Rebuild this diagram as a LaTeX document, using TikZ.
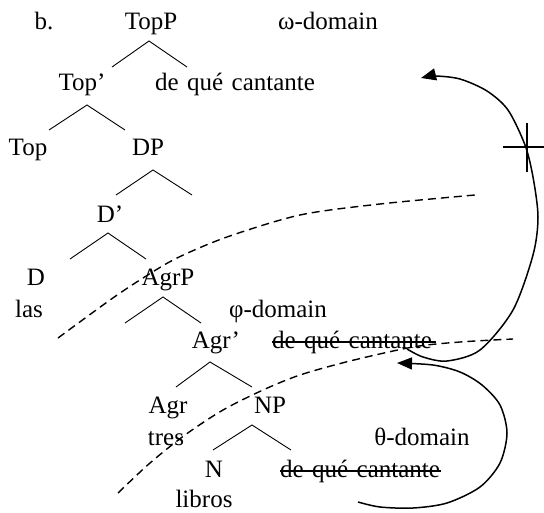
\documentclass[tikz,border=0pt]{standalone}
\usepackage{fontspec}
\setmainfont[WordSpace=1.35]{Liberation Serif}
\usetikzlibrary{arrows.meta}
\begin{document}
\begin{tikzpicture}[x=1pt,y=-1pt,
  lbl/.style={inner sep=0pt, anchor=base, font=\fontsize{25}{29}\selectfont},
  branch/.style={line width=0.9pt},
  domainline/.style={line width=1.4pt, dash pattern=on 8pt off 5pt},
  move/.style={line width=1.5pt, -{Triangle[length=15pt,width=12pt]}},
  strike/.style={line width=1.3pt},
  barrier/.style={line width=1.5pt}]
\useasboundingbox (0,0) rectangle (544,512);
\fill[white] (0,0) rectangle (544,512);

% labels of the tree
\node[lbl] (ex)    at (44,29)   {b.};
\node[lbl] (topp)  at (151,29)  {TopP};
\node[lbl] (omega) at (328,29)  {ω-domain};
\node[lbl] (topb)  at (82,90)   {Top’};
\node[lbl] (wh1)   at (235,90)  {de qué cantante};
\node[lbl] (top)   at (28,155)  {Top};
\node[lbl] (dp)    at (148,155) {DP};
\node[lbl] (db)    at (110,222) {D’};
\node[lbl] (d)     at (36,285)  {D};
\node[lbl] (agrp)  at (168,285) {AgrP};
\node[lbl] (las)   at (29,317)  {las};
\node[lbl] (phi)   at (278,317) {φ-domain};
\node[lbl] (agrb)  at (216,348) {Agr’};
\node[lbl] (wh2)   at (352,348) {de qué cantante};
\node[lbl] (agr)   at (168,413) {Agr};
\node[lbl] (np)    at (270,413) {NP};
\node[lbl] (tres)  at (166,445) {tres};
\node[lbl] (theta) at (422,445) {θ-domain};
\node[lbl] (n)     at (214,477) {N};
\node[lbl] (wh3)   at (360,477) {de qué cantante};
\node[lbl] (libros) at (204,507) {libros};

% branches: apex, left end, right end
\newcommand\forkat[3]{\draw[branch] #2 -- #1 -- #3;}
\forkat{(149,41)}{(112,67)}{(187,67)}
\forkat{(87,105)}{(49,130)}{(125,130)}
\forkat{(153,170)}{(116,195)}{(192,195)}
\forkat{(108,233)}{(70,259)}{(146,259)}
\forkat{(163,297)}{(125,323)}{(201,323)}
\forkat{(210,362)}{(176,387)}{(252,387)}
\forkat{(252,425)}{(213,450)}{(291,450)}

% deleted copies
\draw[strike] ([yshift=6pt]wh2.base west) -- ([xshift=4pt,yshift=6pt]wh2.base east);
\draw[strike] ([yshift=6pt]wh3.base west) -- ([xshift=1pt,yshift=6pt]wh3.base east);

% domain boundaries
\draw[domainline] plot[smooth] coordinates {(58,338) (110,300) (143,278) (177,258) (227,237) (300,215) (380,204) (475,195)};
\draw[domainline] plot[smooth] coordinates {(118,493) (150,463) (185,435) (223,410) (263,390) (300,375) (350,361) (413,347) (460,342) (513,339)};

% movement arrows
\coordinate (m1s) at (407,349);
\coordinate (m1e) at (421,78);
\coordinate (m2s) at (358,502);
\coordinate (m2e) at (397,363);
\draw[move] plot[smooth] coordinates {(m1s) (423,357) (447,361) (480,350) (513,310) (533,255) (538,217) (533,177) (525,145) (508,110) (487,91) (460,79) (435,76) (m1e)};
\draw[move] plot[smooth] coordinates {(m2s) (380,507) (413,508) (447,503) (480,487) (500,463) (507,433) (500,405) (482,385) (460,372) (433,365) (m2e)};

% blocked path mark
\coordinate (cross) at (527,147);
\draw[barrier] ([xshift=-24pt]cross) -- ([xshift=17pt]cross);
\draw[barrier] ([yshift=24pt]cross) -- ([yshift=-25pt]cross);
\end{tikzpicture}
\end{document}
